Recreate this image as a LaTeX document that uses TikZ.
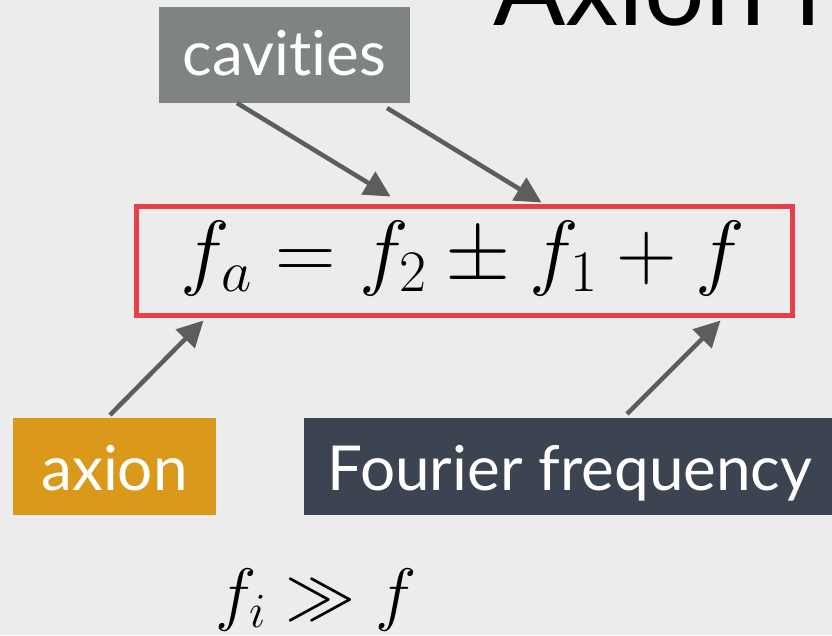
\RequirePackage{fix-cm}
\documentclass[tikz,border=0pt]{standalone}
\usepackage[no-math]{fontspec}
\newfontfamily\lato[Ligatures=NoCommon]{Lato}
\usetikzlibrary{arrows.meta}
\definecolor{bg}{HTML}{ECECEC}
\definecolor{cavgray}{HTML}{7F8481}
\definecolor{axorange}{HTML}{DA991A}
\definecolor{fourslate}{HTML}{3D4451}
\definecolor{boxred}{HTML}{E8404A}
\definecolor{arrowgray}{HTML}{5B5E5C}
\tikzset{
  label box/.style={inner sep=0pt, outer sep=0pt, text=white,
    font=\lato\fontsize{62}{70}\selectfont, text depth=0pt},
  arr/.style={draw=arrowgray, line width=4.5pt, -{Triangle[length=26pt,width=26pt]}},
}
\begin{document}
\begin{tikzpicture}[x=1pt,y=-1pt]
\useasboundingbox (0,0) rectangle (832,635);
\clip (0,0) rectangle (832,635);
\fill[bg] (0,0) rectangle (832,635);
% title (cut off)
\node[anchor=base west, inner sep=0pt, font=\lato\fontsize{107}{120}\selectfont] (title) at (493,25) {Axion f};
% boxes
\node[label box, fill=cavgray, minimum width=251pt, minimum height=96pt, text height=40pt] (cav) at (284.5,55) {cavities};
\node[label box, fill=axorange, minimum width=203pt, minimum height=97pt, text height=47pt] (ax) at (114.5,466.5) {axion};
\node[label box, fill=fourslate, minimum width=532pt, minimum height=97pt, text height=47pt] (four) at (570,466.5) {Fourier frequency};
% equation box
\node[draw=boxred, line width=5pt, inner sep=0pt, outer sep=0pt, minimum width=656pt, minimum height=109pt] (box) at (464.5,261) {};
\node[anchor=base, inner sep=0pt, font=\fontsize{84}{100}\selectfont] (eq) at (463,279) {$f_a = f_2 \pm f_1 + f$};
\node[anchor=base, inner sep=0pt, font=\fontsize{70}{84}\selectfont] (cond) at (316,617) {$f_i \gg f$};
% arrows
\draw[arr] ([xshift=78pt,yshift=0pt]cav.south west) -- ([xshift=254pt,yshift=10pt]box.north west);
\draw[arr] ([xshift=228pt,yshift=-5pt]cav.south west) -- ([xshift=405pt,yshift=4pt]box.north west);
\draw[arr] ([xshift=97pt,yshift=3pt]ax.north west) -- ([xshift=67pt,yshift=-5pt]box.south west);
\draw[arr] ([xshift=323pt,yshift=4pt]four.north west) -- ([xshift=584pt,yshift=-5pt]box.south west);
\end{tikzpicture}
\end{document}
